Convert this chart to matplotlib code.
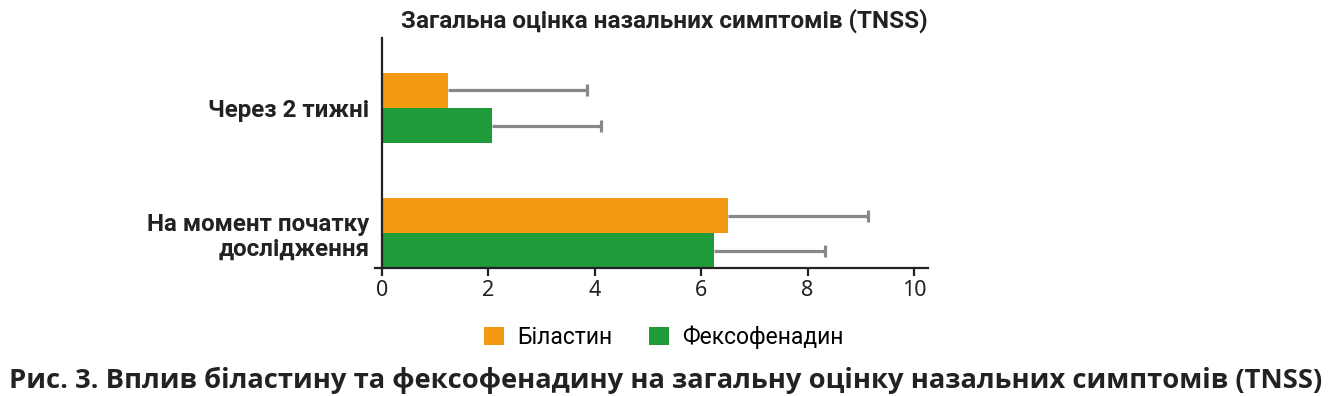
import matplotlib
matplotlib.use("Agg")
import matplotlib.pyplot as plt
from matplotlib.patches import Patch
import numpy as np

categories = ["На момент початку\nдослідження", "Через 2 тижні"]
series_names = ["Біластин", "Фексофенадин"]
bilastine = [6.51, 1.24]
bilastine_err = [2.62, 2.62]
fexofenadine = [6.24, 2.07]
fexofenadine_err = [2.08, 2.05]
xticks = [0, 2, 4, 6, 8, 10]

title = "Загальна оцінка назальних симптомів (TNSS)"
caption = "Рис. 3. Вплив біластину та фексофенадину на загальну оцінку назальних симптомів (TNSS)"

orange = "#F39A12"
green = "#1F9B3A"
grey = "#888888"

fig = plt.figure(figsize=(13.31, 3.96), dpi=100)
ax = fig.add_axes([375 / 1331, 128 / 396, (928.4 - 375) / 1331, 230 / 396])

y = np.arange(len(categories))
h = 0.28
ekw = dict(ecolor=grey, elinewidth=2.3, capsize=4.5, capthick=2.3)
b1 = ax.barh(y + h / 2, bilastine, height=h, color=orange,
             xerr=[np.zeros(len(y)), bilastine_err], error_kw=ekw, zorder=2)
b2 = ax.barh(y - h / 2, fexofenadine, height=h, color=green,
             xerr=[np.zeros(len(y)), fexofenadine_err], error_kw=ekw, zorder=2)
for bc in (b1, b2):
    caps = bc.errorbar.lines[1]
    if len(caps) >= 2:
        caps[0].set_visible(False)

for s in ["top", "right"]:
    ax.spines[s].set_visible(False)
ax.spines["left"].set_position(("data", 0))
ax.spines["left"].set_linewidth(1.6)
ax.spines["left"].set_color("#222222")
ax.spines["bottom"].set_linewidth(1.6)
ax.spines["bottom"].set_color("#222222")

ax.set_xlim(-0.13, 10.27)
ax.set_ylim(-0.28, 1.56)
ax.set_xticks(xticks)
ax.set_xticklabels([str(t) for t in xticks], fontfamily="Noto Sans", fontsize=15.5, color="#222222")
ax.set_yticks(y)
ax.set_yticklabels(categories, fontfamily="Roboto", fontweight="bold", fontsize=17.4, color="#222222",
                   linespacing=1.1, ha="right")
ax.tick_params(axis="y", length=0, pad=9)
ax.tick_params(axis="x", length=6, width=1.6, color="#222222", pad=3)

fig.text(664 / 1331, 1 - 21 / 396, title, ha="center", va="center",
         fontfamily="Roboto", fontweight="bold", fontsize=17.5, color="#222222")

handles = [Patch(facecolor=orange, edgecolor="none"), Patch(facecolor=green, edgecolor="none")]
fig.legend(handles, series_names, loc="center", bbox_to_anchor=(664 / 1331, 1 - 337 / 396),
           ncol=2, frameon=False, handlelength=0.85, handleheight=0.85, handletextpad=0.6,
           columnspacing=1.6, prop=dict(family="Roboto", size=16.5))

fig.text(665.5 / 1331, 1 - 380 / 396, caption, ha="center", va="center",
         fontfamily="Open Sans", fontweight="bold", fontsize=19.7, color="#222222")

fig.savefig("out.png", dpi=100)
